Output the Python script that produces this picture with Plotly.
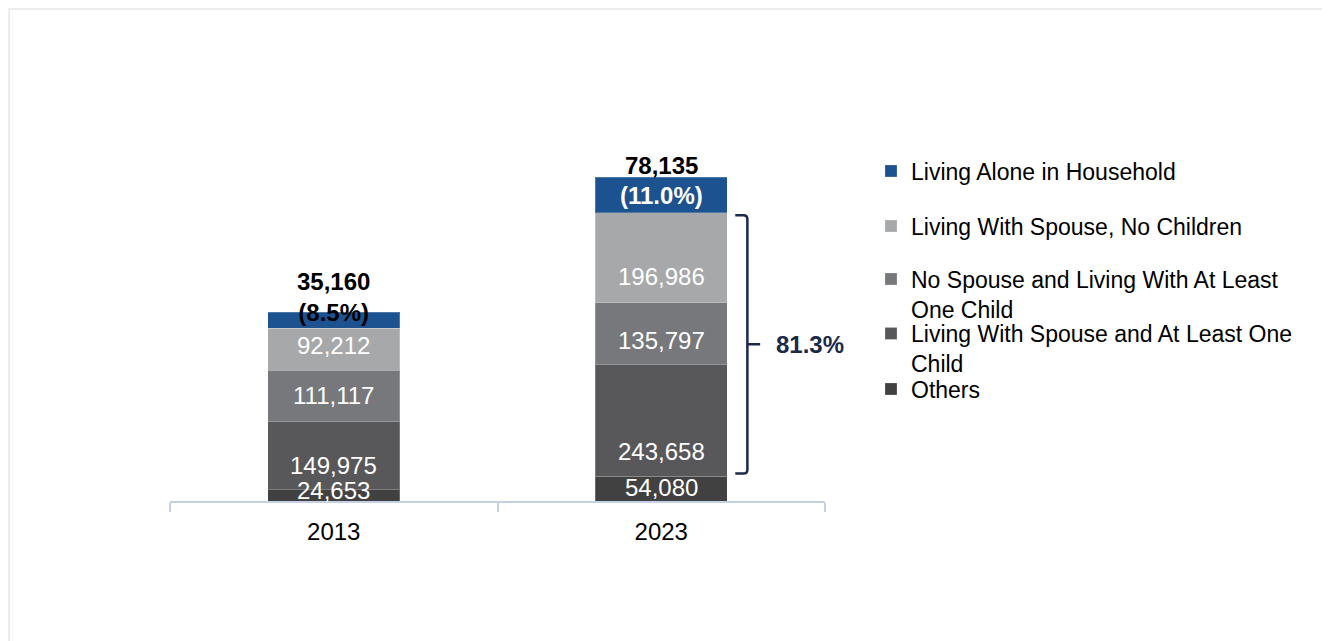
import plotly.graph_objects as go

# ---------------- data ----------------
years = ["2013", "2023"]
others = [24653, 54080]
spouse_child = [149975, 243658]
no_spouse_child = [111117, 135797]
spouse_no_child = [92212, 196986]
living_alone = [35160, 78135]

series_names = [
    "Others",
    "Living With Spouse and At Least One<br>Child",
    "No Spouse and Living With At Least<br>One Child",
    "Living With Spouse, No Children",
    "Living Alone in Household",
]
series_values = [others, spouse_child, no_spouse_child, spouse_no_child, living_alone]

# ---------------- style ----------------
colors = ["#414142", "#58585a", "#77787b", "#a7a8aa", "#1d5290"]
FONT = "Liberation Sans, Arial, sans-serif"
NAVY = "#1b2a4a"
# relative vertical placement of the value label inside each segment (0 = bottom, 1 = top)
label_frac = [[0.95, 0.55], [0.36, 0.22], [0.5, 0.39], [0.58, 0.29]]
# legend first-line centre (px from top of page) for each series, drawn in separate legends
legend_px = [389, 348.5, 294, 226, 171]

OFF = 8                      # page body margin
PLOT_TOP, PLOT_BOTTOM = 44, 501   # page coordinates
PLOT_LEFT, PLOT_RIGHT = 170, 825
PLOT_H = PLOT_BOTTOM - PLOT_TOP
PLOT_W = PLOT_RIGHT - PLOT_LEFT
YMAX = 1_000_000

fig = go.Figure()
for i, (name, vals) in enumerate(zip(series_names, series_values)):
    fig.add_trace(go.Bar(
        x=years, y=vals, name=name,
        marker=dict(color=colors[i], line=dict(color="rgba(255,255,255,0.22)", width=1)),
        width=0.403,
        legend="legend" if i == 0 else f"legend{i+1}",
        hoverinfo="x+y+name",
    ))

annotations = []
totals = [sum(v[j] for v in series_values) for j in range(len(years))]

# segment labels (white)
for j in range(len(years)):
    base = 0
    for i in range(4):
        v = series_values[i][j]
        annotations.append(dict(
            x=j, y=base + v * label_frac[i][j], xref="x", yref="y",
            text=f"{v:,}", showarrow=False, yanchor="middle",
            font=dict(family=FONT, size=24, color="white"),
        ))
        base += v

# 2013: value and share in black at the bar top
a0, t0 = living_alone[0], totals[0]
annotations.append(dict(
    x=0, y=t0, xref="x", yref="y", showarrow=False, yanchor="middle", yshift=15,
    text=f"<b>{a0:,}</b><br><b>({a0 / t0 * 100:.1f}%)</b>",
    font=dict(family=FONT, size=24, color="black"),
))
# 2023: value above, share inside (white)
a1, t1 = living_alone[1], totals[1]
annotations.append(dict(
    x=1, y=t1, xref="x", yref="y", showarrow=False, yanchor="middle", yshift=12,
    text=f"<b>{a1:,}</b>", font=dict(family=FONT, size=24, color="black"),
))
annotations.append(dict(
    x=1, y=t1 - a1 / 2, xref="x", yref="y", showarrow=False, yanchor="middle",
    text=f"<b>({a1 / t1 * 100:.1f}%)</b>", font=dict(family=FONT, size=24, color="white"),
))

# bracket spanning the three middle segments of 2023
mid_sum = spouse_child[1] + no_spouse_child[1] + spouse_no_child[1]
b_bot = others[1] + 6000
b_top = others[1] + mid_sum - 5000
b_mid = (b_top + b_bot) / 2
xl, xv, xt = 1.226, 1.263, 1.302
rx, ry = 0.012, 9000
path = (f"M{xl},{b_top} L{xv - rx},{b_top} Q{xv},{b_top} {xv},{b_top - ry} "
        f"L{xv},{b_bot + ry} Q{xv},{b_bot} {xv - rx},{b_bot} L{xl},{b_bot} "
        f"M{xv},{b_mid} L{xt},{b_mid}")
shapes = [
    dict(type="path", path=path, xref="x", yref="y", line=dict(color=NAVY, width=2.5)),
    # faint outer border (as close to the page corner as the figure allows)
    dict(type="rect", xref="paper", yref="paper",
         x0=(OFF + 1 - PLOT_LEFT) / PLOT_W, x1=2.0,
         y0=-1.0, y1=(PLOT_BOTTOM - (OFF + 1)) / PLOT_H,
         line=dict(color="#e6e6e6", width=1.5), layer="below"),
]
annotations.append(dict(
    x=1.343, y=b_mid, xref="x", yref="y", showarrow=False, xanchor="left", yanchor="middle",
    text=f"<b>{mid_sum / t1 * 100:.1f}%</b>", font=dict(family=FONT, size=24, color=NAVY),
))

layout_legends = {}
for i in range(5):
    key = "legend" if i == 0 else f"legend{i+1}"
    layout_legends[key] = dict(
        x=(871 - PLOT_LEFT) / PLOT_W, xanchor="left",
        y=(PLOT_BOTTOM - legend_px[i]) / PLOT_H, yanchor="middle",
        font=dict(family=FONT, size=23, color="black"),
        bgcolor="rgba(0,0,0,0)", borderwidth=0, valign="top",
        itemclick=False, itemdoubleclick=False,
    )

fig.update_layout(
    barmode="stack",
    width=1330, height=641,
    margin=dict(l=PLOT_LEFT - OFF, r=1330 - (PLOT_RIGHT - OFF),
                t=PLOT_TOP - OFF, b=641 - (PLOT_BOTTOM - OFF), autoexpand=False),
    paper_bgcolor="white", plot_bgcolor="white",
    font=dict(family=FONT, size=23, color="black"),
    showlegend=True,
    xaxis=dict(
        type="category", showline=True, linecolor="#c5d0e2", linewidth=1.5,
        ticks="outside", tickson="boundaries", ticklen=9, tickcolor="#c5d0e2", tickwidth=1.5,
        tickfont=dict(family=FONT, size=24, color="black"), showgrid=False,
        range=[-0.5, 1.5], ticklabelstandoff=8,
    ),
    yaxis=dict(visible=False, range=[0, YMAX], showgrid=False, zeroline=False),
    annotations=annotations,
    shapes=shapes,
    **layout_legends,
)

fig.write_html("out.html")
